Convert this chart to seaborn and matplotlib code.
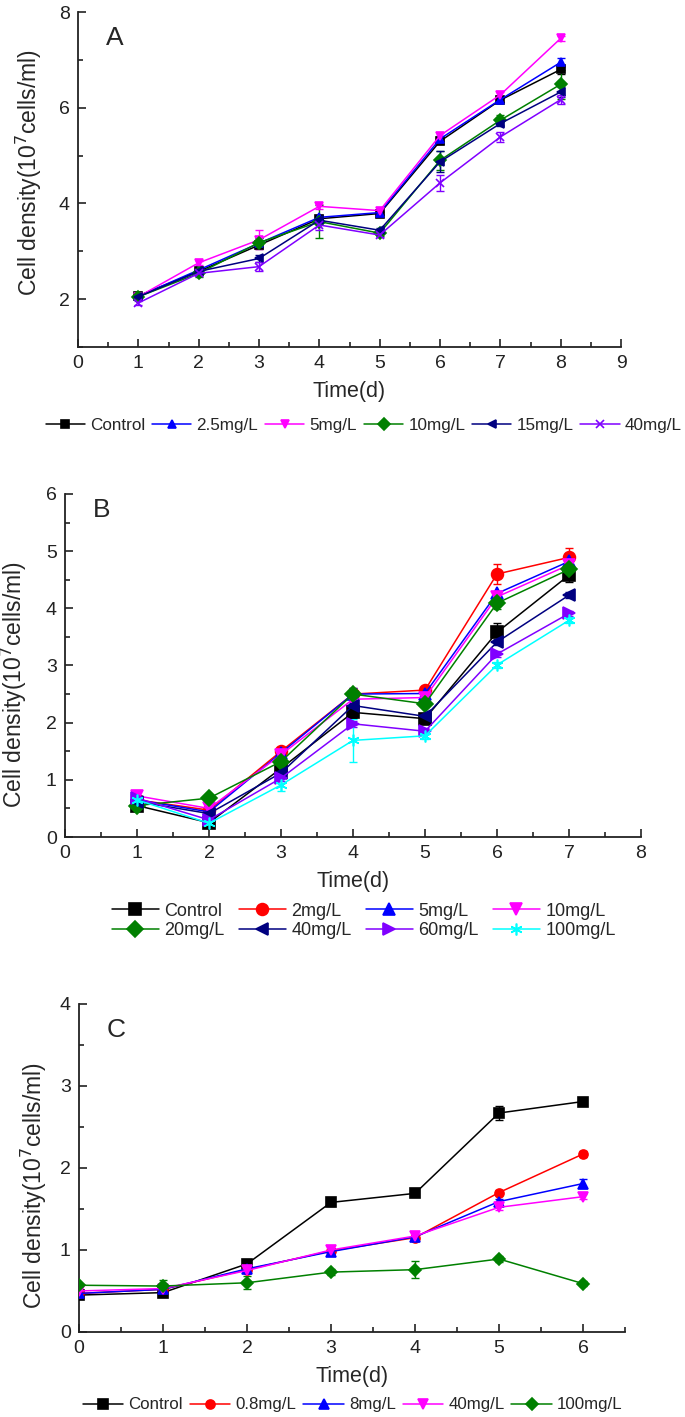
import numpy as np
import pandas as pd
import matplotlib
matplotlib.use('Agg')
import matplotlib.pyplot as plt
import seaborn as sns
from matplotlib.ticker import MultipleLocator, AutoMinorLocator

# ---- DATA ----
# panel A
days_a = [1, 2, 3, 4, 5, 6, 7, 8]
labels_a = ['Control', '2.5mg/L', '5mg/L', '10mg/L', '15mg/L', '40mg/L']
a_control = [2.07, 2.58, 3.13, 3.68, 3.79, 5.30, 6.16, 6.80]
a_25 = [2.06, 2.61, 3.17, 3.71, 3.81, 5.35, 6.17, 6.95]
a_5 = [2.05, 2.76, 3.24, 3.94, 3.85, 5.42, 6.27, 7.45]
a_10 = [2.05, 2.54, 3.18, 3.62, 3.38, 4.90, 5.74, 6.49]
a_15 = [2.05, 2.58, 2.85, 3.65, 3.44, 4.87, 5.67, 6.33]
a_40 = [1.92, 2.54, 2.68, 3.55, 3.34, 4.43, 5.39, 6.17]
a_err_control = [0.04, 0.05, 0.08, 0.05, 0.03, 0.05, 0.05, 0.10]
a_err_25 = [0.04, 0.05, 0.10, 0.05, 0.03, 0.05, 0.05, 0.10]
a_err_5 = [0.03, 0.04, 0.20, 0.05, 0.03, 0.05, 0.05, 0.05]
a_err_10 = [0.05, 0.08, 0.10, 0.35, 0.05, 0.20, 0.10, 0.30]
a_err_15 = [0.05, 0.05, 0.08, 0.05, 0.05, 0.22, 0.05, 0.10]
a_err_40 = [0.05, 0.05, 0.10, 0.10, 0.05, 0.17, 0.10, 0.10]

# panel B
days_b = [1, 2, 3, 4, 5, 6, 7]
labels_b = ['Control', '2mg/L', '5mg/L', '10mg/L', '20mg/L', '40mg/L', '60mg/L', '100mg/L']
b_control = [0.55, 0.25, 1.20, 2.18, 2.07, 3.58, 4.58]
b_2 = [0.65, 0.47, 1.50, 2.50, 2.57, 4.60, 4.89]
b_5 = [0.65, 0.44, 1.47, 2.50, 2.51, 4.26, 4.82]
b_10 = [0.72, 0.50, 1.44, 2.41, 2.44, 4.20, 4.76]
b_20 = [0.55, 0.68, 1.32, 2.50, 2.33, 4.09, 4.68]
b_40 = [0.62, 0.41, 1.12, 2.30, 2.11, 3.41, 4.23]
b_60 = [0.68, 0.30, 1.03, 1.98, 1.85, 3.20, 3.91]
b_100 = [0.65, 0.24, 0.91, 1.69, 1.77, 3.01, 3.79]
b_err_control = [0.05, 0.05, 0.10, 0.10, 0.05, 0.16, 0.12]
b_err_2 = [0.05, 0.05, 0.05, 0.10, 0.05, 0.17, 0.17]
b_err_5 = [0.05, 0.05, 0.05, 0.10, 0.05, 0.05, 0.05]
b_err_10 = [0.05, 0.05, 0.05, 0.05, 0.05, 0.05, 0.05]
b_err_20 = [0.05, 0.05, 0.05, 0.05, 0.05, 0.10, 0.05]
b_err_40 = [0.05, 0.05, 0.05, 0.05, 0.05, 0.05, 0.05]
b_err_60 = [0.05, 0.05, 0.05, 0.05, 0.05, 0.05, 0.05]
b_err_100 = [0.05, 0.08, 0.10, 0.38, 0.05, 0.05, 0.05]

# panel C
days_c = [0, 1, 2, 3, 4, 5, 6]
labels_c = ['Control', '0.8mg/L', '8mg/L', '40mg/L', '100mg/L']
c_control = [0.45, 0.48, 0.83, 1.58, 1.69, 2.67, 2.81]
c_08 = [0.47, 0.52, 0.76, 0.99, 1.15, 1.70, 2.17]
c_8 = [0.47, 0.52, 0.77, 0.98, 1.16, 1.59, 1.81]
c_40 = [0.50, 0.53, 0.75, 1.00, 1.17, 1.52, 1.65]
c_100 = [0.57, 0.56, 0.60, 0.73, 0.76, 0.89, 0.59]
c_err_control = [0.02, 0.03, 0.03, 0.04, 0.02, 0.08, 0.03]
c_err_08 = [0.02, 0.02, 0.03, 0.02, 0.03, 0.03, 0.04]
c_err_8 = [0.02, 0.02, 0.03, 0.03, 0.03, 0.03, 0.05]
c_err_40 = [0.02, 0.02, 0.03, 0.02, 0.05, 0.03, 0.03]
c_err_100 = [0.02, 0.07, 0.08, 0.04, 0.10, 0.04, 0.03]

# ---- STYLE ----
sns.set_style('ticks')
plt.rcParams['font.family'] = ['Liberation Sans', 'DejaVu Sans']

BLACK, BLUE, MAGENTA, GREEN = 'black', '#0000FF', '#FF00FF', '#008000'
NAVY, PURPLE, RED, CYAN = '#000080', '#8000FF', '#FF0000', '#00FFFF'
ASTER = (6, 2, 0)

panel_a = [(a_control, a_err_control, BLACK, 's'), (a_25, a_err_25, BLUE, '^'),
           (a_5, a_err_5, MAGENTA, 'v'), (a_10, a_err_10, GREEN, 'D'),
           (a_15, a_err_15, NAVY, '<'), (a_40, a_err_40, PURPLE, 'x')]
panel_b = [(b_control, b_err_control, BLACK, 's'), (b_2, b_err_2, RED, 'o'),
           (b_5, b_err_5, BLUE, '^'), (b_10, b_err_10, MAGENTA, 'v'),
           (b_20, b_err_20, GREEN, 'D'), (b_40, b_err_40, NAVY, '<'),
           (b_60, b_err_60, PURPLE, '>'), (b_100, b_err_100, CYAN, ASTER)]
panel_c = [(c_control, c_err_control, BLACK, 's'), (c_08, c_err_08, RED, 'o'),
           (c_8, c_err_8, BLUE, '^'), (c_40, c_err_40, MAGENTA, 'v'),
           (c_100, c_err_100, GREEN, 'D')]

fig = plt.figure(figsize=(6.85, 14.17), dpi=100)
ax_a = fig.add_axes([0.1139, 0.7551, 0.7927, 0.2364])
ax_b = fig.add_axes([0.0949, 0.4093, 0.8409, 0.2421])
ax_c = fig.add_axes([0.1153, 0.0600, 0.7971, 0.2315])


def draw(ax, days, series, labels, ms):
    for (vals, err, col, mk), name in zip(series, labels):
        ax.errorbar(days, vals, yerr=err, fmt='none', ecolor=col, elinewidth=1,
                    capsize=3, capthick=1, zorder=2)
        sns.lineplot(x=days, y=vals, ax=ax, color=col, marker=mk, markersize=ms,
                     markeredgecolor=col, markeredgewidth=1.2, linewidth=1.1,
                     label=name, errorbar=None, zorder=3)
    if ax.get_legend() is not None:
        ax.get_legend().remove()
    return ax.get_legend_handles_labels()


def style_axis(ax, xlim, ylim, ystep, letter, letter_pos, ylab_pos):
    ax.set_xlim(*xlim)
    ax.set_ylim(*ylim)
    ax.xaxis.set_major_locator(MultipleLocator(1))
    ax.xaxis.set_minor_locator(AutoMinorLocator(2))
    ax.yaxis.set_major_locator(MultipleLocator(ystep))
    ax.yaxis.set_minor_locator(AutoMinorLocator(2))
    sns.despine(ax=ax)
    for s in ['left', 'bottom']:
        ax.spines[s].set_linewidth(1.3)
        ax.spines[s].set_color('#222222')
    ax.tick_params(which='major', direction='in', length=6, width=1.2,
                   labelsize=14, colors='#222222', pad=6)
    ax.tick_params(which='minor', direction='in', length=3.5, width=1.2, colors='#222222')
    ax.set_xlabel('Time(d)', fontsize=15.5, labelpad=6)
    ax.set_ylabel('Cell density(10$^7$cells/ml)', fontsize=16.5)
    ax.yaxis.set_label_coords(*ylab_pos)
    ax.text(letter_pos[0], letter_pos[1], letter, transform=ax.transAxes,
            fontsize=19, ha='center', va='center')


h, l = draw(ax_a, days_a, panel_a, labels_a, 6)
style_axis(ax_a, (0, 9), (1, 8), 2, 'A', (0.068, 0.922), (-0.063, 0.52))
ax_a.set_yticks([2, 4, 6, 8])
fig.legend(h, l, loc='center', bbox_to_anchor=(0.531, 0.700), ncol=6, frameon=False,
           fontsize=12.3, handlelength=2.3, handletextpad=0.3, columnspacing=0.4,
           numpoints=1)

h, l = draw(ax_b, days_b, panel_b, labels_b, 8.5)
style_axis(ax_b, (0, 8), (0, 6), 1, 'B', (0.064, 0.953), (-0.0625, 0.443))
order = [0, 4, 1, 5, 2, 6, 3, 7]
fig.legend([h[i] for i in order], [l[i] for i in order], loc='center',
           bbox_to_anchor=(0.531, 0.350), ncol=4, frameon=False, fontsize=13,
           handlelength=2.6, handletextpad=0.3, columnspacing=0.8, labelspacing=0.15,
           numpoints=1)

h, l = draw(ax_c, days_c, panel_c, labels_c, 6.5)
style_axis(ax_c, (0, 6.5), (0, 4), 1, 'C', (0.068, 0.92), (-0.055, 0.445))
fig.legend(h, l, loc='center', bbox_to_anchor=(0.515, 0.0085), ncol=5, frameon=False,
           fontsize=12.2, handlelength=2.4, handletextpad=0.3, columnspacing=0.4,
           numpoints=1)

fig.savefig('out.png', dpi=100)
